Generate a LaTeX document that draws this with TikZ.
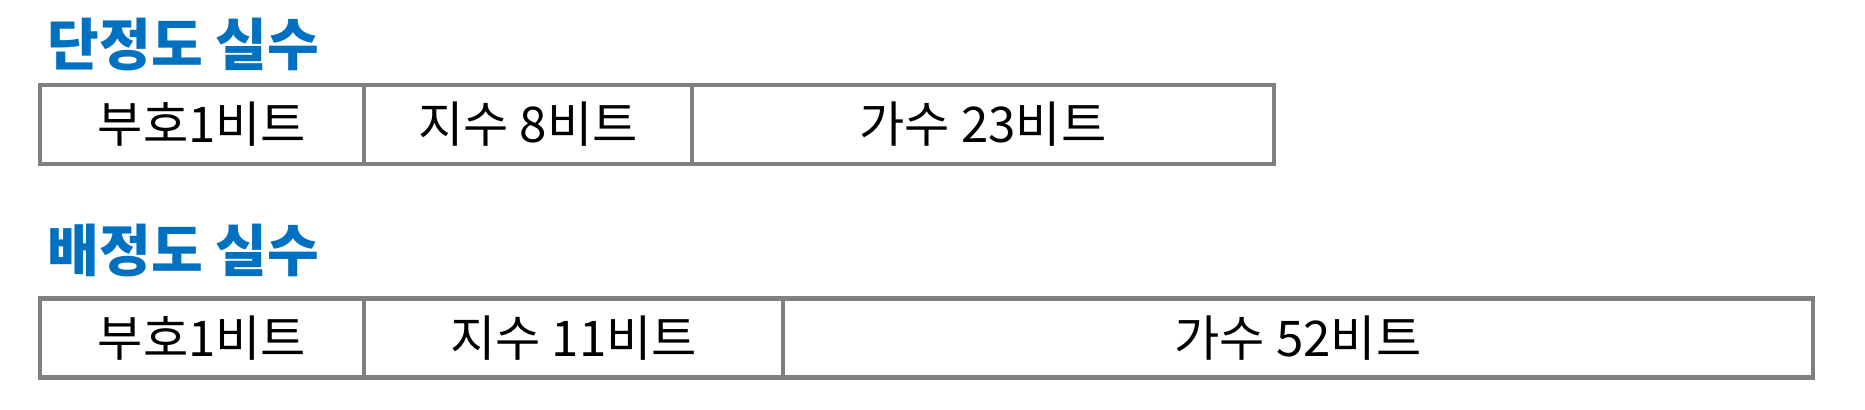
\documentclass[tikz,border=0pt]{standalone}
\usepackage{fontspec}
\usepackage{tikz}
\newfontfamily\kr{Noto Sans CJK KR}
\definecolor{titleblue}{RGB}{0,112,192}
\usetikzlibrary{positioning}

\begin{document}
\begin{tikzpicture}[
    cell/.style={draw=gray, line width=1.15pt, minimum height=0.79cm, inner sep=0pt, outer sep=0pt,
        anchor=west, font=\kr\fontsize{14}{16}\selectfont},
    title/.style={text=titleblue, anchor=west, inner sep=0pt, font=\kr\bfseries\fontsize{16}{18}\selectfont}]
    \useasboundingbox (0,0) rectangle (18.65,4.09);

    % Single precision
    \node [title] (single) at (0.47,3.64) {단정도 실수};
    \node [cell, minimum width=3.24cm] (ssign) at (0.40,2.845) {부호1비트};
    \node [cell, minimum width=3.28cm, right=0pt of ssign] (sexp) {지수 8비트};
    \node [cell, minimum width=5.82cm, right=0pt of sexp] (sfrac) {가수 23비트};

    % Double precision
    \node [title] (double) at (0.47,1.59) {배정도 실수};
    \node [cell, minimum width=3.24cm] (dsign) at (0.40,0.71) {부호1비트};
    \node [cell, minimum width=4.19cm, right=0pt of dsign] (dexp) {지수 11비트};
    \node [cell, minimum width=10.30cm, right=0pt of dexp] (dfrac) {가수 52비트};
\end{tikzpicture}
\end{document}
